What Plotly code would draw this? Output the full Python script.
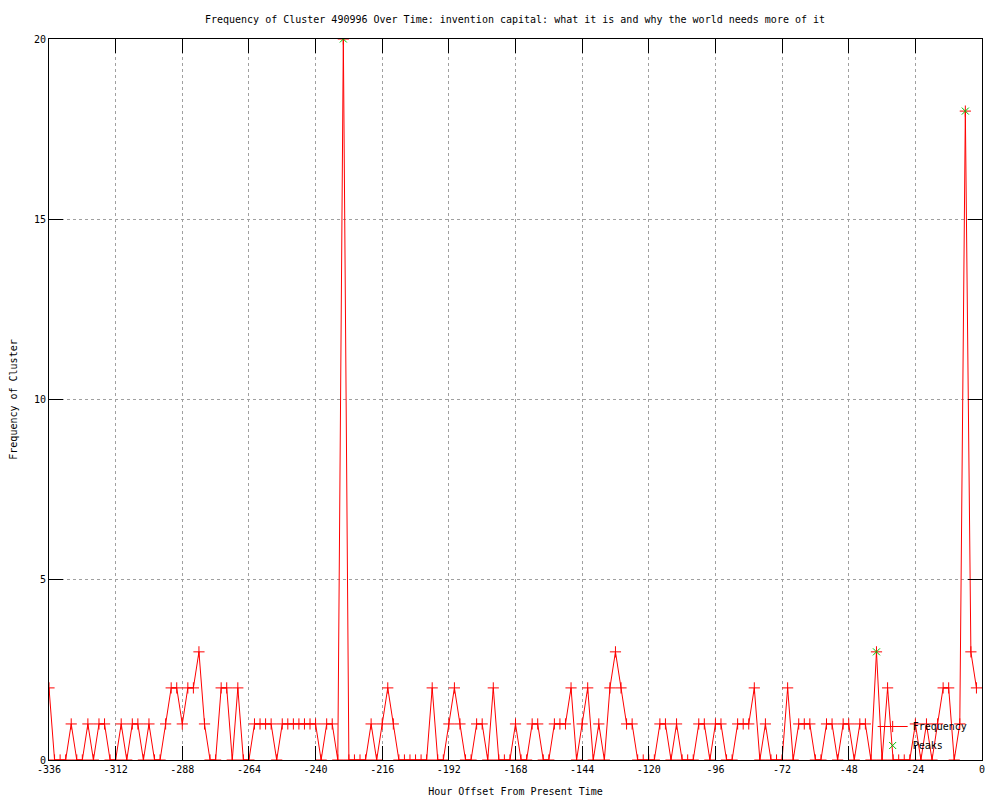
import plotly.graph_objects as go

hours = [
    -336, -334, -332, -330, -328, -326, -324, -322, -320, -318, -316, -314,
    -312, -310, -308, -306, -304, -302, -300, -298, -296, -294, -292, -290,
    -288, -286, -284, -282, -280, -278, -276, -274, -272, -270, -268, -266,
    -264, -262, -260, -258, -256, -254, -252, -250, -248, -246, -244, -242,
    -240, -238, -236, -234, -232, -230, -228, -226, -224, -222, -220, -218,
    -216, -214, -212, -210, -208, -206, -204, -202, -200, -198, -196, -194,
    -192, -190, -188, -186, -184, -182, -180, -178, -176, -174, -172, -170,
    -168, -166, -164, -162, -160, -158, -156, -154, -152, -150, -148, -146,
    -144, -142, -140, -138, -136, -134, -132, -130, -128, -126, -124, -122,
    -120, -118, -116, -114, -112, -110, -108, -106, -104, -102, -100, -98,
    -96, -94, -92, -90, -88, -86, -84, -82, -80, -78, -76, -74,
    -72, -70, -68, -66, -64, -62, -60, -58, -56, -54, -52, -50,
    -48, -46, -44, -42, -40, -38, -36, -34, -32, -30, -28, -26,
    -24, -22, -20, -18, -16, -14, -12, -10, -8, -6, -4, -2,
]

frequency = [
    2, 0, 0, 0, 1, 0, 0, 1, 0, 1, 1, 0,
    0, 1, 0, 1, 1, 0, 1, 0, 0, 1, 2, 2,
    1, 2, 2, 3, 1, 0, 0, 2, 2, 0, 2, 0,
    0, 1, 1, 1, 1, 0, 1, 1, 1, 1, 1, 1,
    1, 0, 1, 1, 0, 20, 0, 0, 0, 0, 1, 0,
    1, 2, 1, 0, 0, 0, 0, 0, 0, 2, 0, 0,
    1, 2, 1, 0, 0, 1, 1, 0, 2, 0, 0, 0,
    1, 0, 0, 1, 1, 0, 0, 1, 1, 1, 2, 0,
    1, 2, 0, 1, 0, 2, 3, 2, 1, 1, 0, 0,
    0, 0, 1, 1, 0, 1, 0, 0, 0, 1, 1, 0,
    1, 1, 0, 0, 1, 1, 1, 2, 0, 1, 0, 0,
    0, 2, 0, 1, 1, 1, 0, 0, 1, 1, 0, 1,
    1, 0, 1, 1, 0, 3, 0, 2, 0, 0, 0, 0,
    1, 0, 1, 0, 1, 2, 2, 0, 1, 18, 3, 2,
]

peak_hours = [-230, -38, -6]
peak_values = [20, 3, 18]

x_tick_vals = [-336, -312, -288, -264, -240, -216, -192, -168, -144, -120,
               -96, -72, -48, -24, 0]
x_tick_text = ["-336", "-312", "-288", "-264", "-240", "-216", "-192", "-168",
               "-144", "-120", "-96", "-72", "-48", "-24", "0"]
y_tick_vals = [0, 5, 10, 15, 20]
y_tick_text = ["0", "5", "10", "15", "20"]

FONT = "DejaVu Sans Mono"

fig = go.Figure()
fig.add_trace(go.Scatter(
    x=hours, y=frequency, mode="lines+markers", name="Frequency",
    line=dict(color="#ff0000", width=1),
    marker=dict(symbol="cross-thin", size=8, color="#ff0000",
                line=dict(color="#ff0000", width=1)),
))
fig.add_trace(go.Scatter(
    x=peak_hours, y=peak_values, mode="markers", name="Peaks",
    marker=dict(symbol="x-thin", size=7, color="#00c000",
                line=dict(color="#00c000", width=1)),
))

axis_common = dict(
    showline=True, linecolor="black", linewidth=1, mirror="ticks",
    ticks="inside", ticklen=14, tickwidth=1, tickcolor="black",
    showgrid=True, gridcolor="#a0a0a0", griddash="dot", gridwidth=1,
    zeroline=False,
    tickfont=dict(family=FONT, size=10, color="black"),
)

fig.update_xaxes(
    range=[-336, 0], tickmode="array", tickvals=x_tick_vals, ticktext=x_tick_text,
    title=dict(text="Hour Offset From Present Time",
               font=dict(family=FONT, size=10, color="black"), standoff=13),
    **axis_common,
)
fig.update_yaxes(
    range=[0, 20], tickmode="array", tickvals=y_tick_vals, ticktext=y_tick_text,
    title=dict(text="Frequency of Cluster",
               font=dict(family=FONT, size=10, color="black"), standoff=14),
    **axis_common,
)

fig.update_layout(
    width=1000, height=800,
    paper_bgcolor="white", plot_bgcolor="white",
    margin=dict(l=41, r=26, t=31, b=48, autoexpand=False),
    title=dict(
        text="Frequency of Cluster 490996 Over Time: invention capital: what it is and why the world needs more of it",
        x=0.507, xanchor="center", y=0.986, yanchor="middle",
        font=dict(family=FONT, size=10, color="black"),
    ),
    showlegend=True,
    legend=dict(
        x=0.99, y=0.0, xanchor="right", yanchor="bottom",
        bgcolor="rgba(0,0,0,0)", borderwidth=0,
        font=dict(family=FONT, size=10, color="black"),
        itemwidth=30, tracegroupgap=0,
    ),
    font=dict(family=FONT, size=10, color="black"),
)

fig.write_html("out.html")
